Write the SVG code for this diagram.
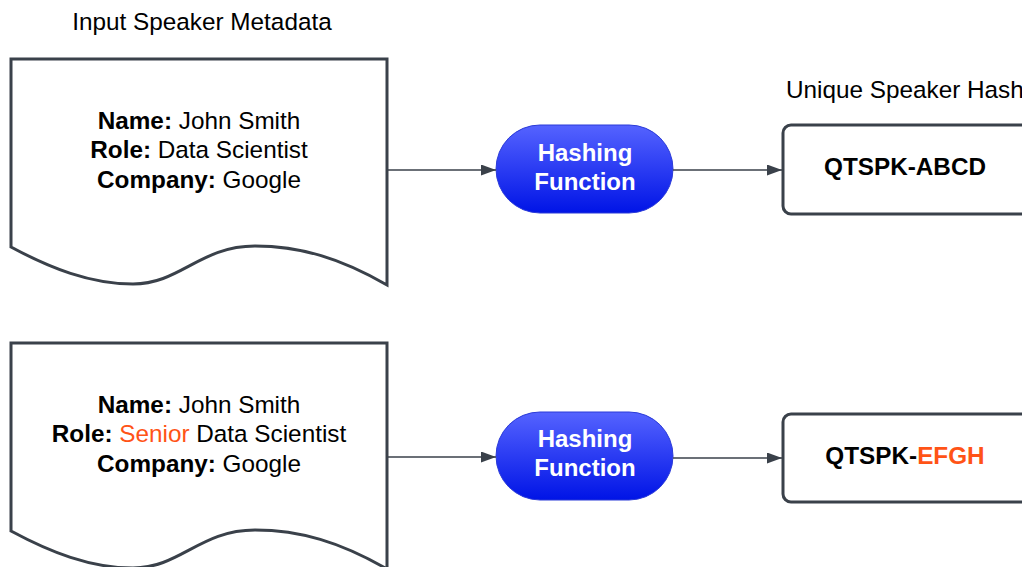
<svg xmlns="http://www.w3.org/2000/svg" width="1022" height="567" viewBox="0 0 1022 567">
<defs>
<linearGradient id="blue" x1="0" y1="0" x2="0" y2="1">
<stop offset="0" stop-color="#5563ff"/>
<stop offset="1" stop-color="#0014e6"/>
</linearGradient>
<marker id="arr" viewBox="0 0 15 11" refX="15" refY="5.5" markerWidth="15" markerHeight="11" markerUnits="userSpaceOnUse" orient="auto">
<path d="M0,0 L15,5.5 L0,11 Z" fill="#3a414a"/>
</marker>
</defs>
<style>
text{font-family:"Liberation Sans",Arial,sans-serif;fill:#000;}
.lbl{font-size:24.3px;}
.b{font-weight:bold;}
.doc{fill:#fff;stroke:#3a414a;stroke-width:3;stroke-linejoin:miter;}
.pill{fill:url(#blue);stroke:#2a3ad8;stroke-width:1;}
.pt{font-size:24px;font-weight:bold;fill:#fff;}
.box{fill:#fff;stroke:#3a414a;stroke-width:3;}
.or{fill:#ff5316;}
.edge{stroke:#3a414a;stroke-width:1.5;fill:none;marker-end:url(#arr);}
</style>
<rect width="1022" height="567" fill="#fff"/>
<text id="title1" class="lbl" x="202" y="30" text-anchor="middle">Input Speaker Metadata</text>
<text id="title2" class="lbl" x="786" y="98">Unique Speaker Hash</text>

<g id="doc1">
<path class="doc" d="M11,59 H387 V285 C340,258 300,246 255,246 C200,246 180,284 133,284 C90,284 50,268 11,247 Z"/>
<text class="lbl" x="199" y="129" text-anchor="middle"><tspan class="b">Name:</tspan> John Smith</text>
<text class="lbl" x="199" y="158" text-anchor="middle"><tspan class="b">Role:</tspan> Data Scientist</text>
<text class="lbl" x="199" y="188" text-anchor="middle"><tspan class="b">Company:</tspan> Google</text>
</g>

<g id="doc2">
<path class="doc" d="M11,343 H387 V569 C340,542 300,530 255,530 C200,530 180,568 133,568 C90,568 50,552 11,531 Z"/>
<text class="lbl" x="199" y="413" text-anchor="middle"><tspan class="b">Name:</tspan> John Smith</text>
<text class="lbl" x="199" y="442" text-anchor="middle"><tspan class="b">Role:</tspan> <tspan class="or">Senior</tspan> Data Scientist</text>
<text class="lbl" x="199" y="472" text-anchor="middle"><tspan class="b">Company:</tspan> Google</text>
</g>

<g id="hash1">
<rect class="pill" x="496" y="125" width="177" height="88" rx="44" ry="44"/>
<text class="pt" x="585" y="161" text-anchor="middle">Hashing</text>
<text class="pt" x="585" y="190" text-anchor="middle">Function</text>
</g>

<g id="hash2">
<rect class="pill" x="496" y="412" width="177" height="88" rx="44" ry="44"/>
<text class="pt" x="585" y="447" text-anchor="middle">Hashing</text>
<text class="pt" x="585" y="476" text-anchor="middle">Function</text>
</g>

<g id="out1">
<rect class="box" x="783" y="125" width="260" height="89" rx="8" ry="8"/>
<text class="lbl b" x="905" y="175" text-anchor="middle">QTSPK-ABCD</text>
</g>

<g id="out2">
<rect class="box" x="783" y="414" width="260" height="88" rx="8" ry="8"/>
<text class="lbl b" x="905" y="464" text-anchor="middle">QTSPK-<tspan class="or">EFGH</tspan></text>
</g>

<g id="connectors">
<line class="edge" x1="388" y1="170" x2="496" y2="170"/>
<line class="edge" x1="673" y1="170" x2="782" y2="170"/>
<line class="edge" x1="388" y1="457" x2="496" y2="457"/>
<line class="edge" x1="673" y1="458" x2="782" y2="458"/>
</g>
</svg>
